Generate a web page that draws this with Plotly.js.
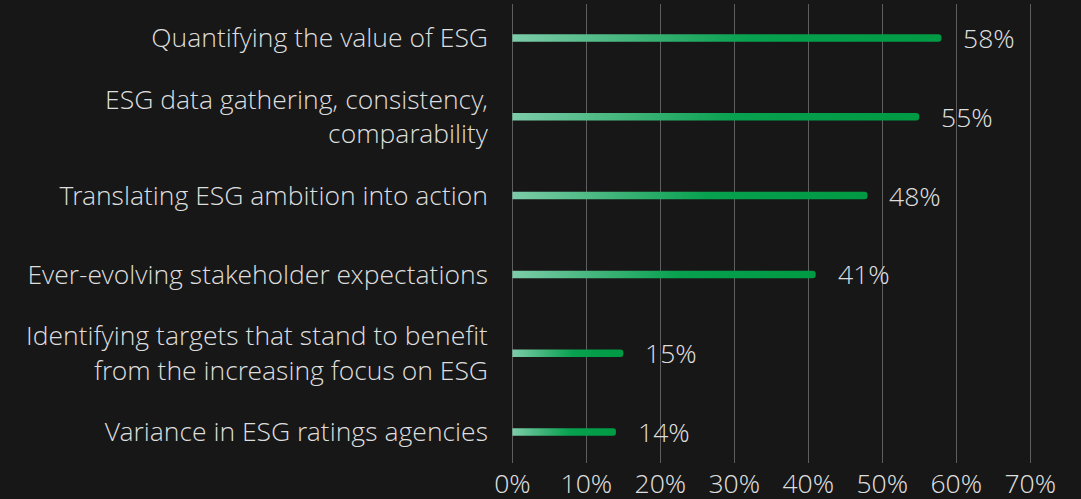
<!DOCTYPE html>
<html>
<head>
<meta charset="utf-8">
<script src="https://cdn.plot.ly/plotly-3.0.1.min.js"></script>
<style>
  html, body { margin: 0; padding: 0; background: #171717; }
  #chart { width: 1081px; height: 499px; }
</style>
</head>
<body>
<div id="chart"></div>
<script>
const categories = [
  "Quantifying the value of ESG",
  "ESG data gathering, consistency,<br>comparability",
  "Translating ESG ambition into action",
  "Ever-evolving stakeholder expectations",
  "Identifying targets that stand to benefit<br>from the increasing focus on ESG",
  "Variance in ESG ratings agencies"
];
const values = [58, 55, 48, 41, 15, 14];
const tickVals = [0, 10, 20, 30, 40, 50, 60, 70];
const tickText = ["0%", "10%", "20%", "30%", "40%", "50%", "60%", "70%"];

const textColor = "#dedede";
const fontFamily = "'Open Sans Light', 'Open Sans', 'Noto Sans', sans-serif";
const fontSize = 26.5;

const trace = {
  type: "bar",
  orientation: "h",
  x: values,
  y: categories,
  width: 0.095,
  marker: { color: "#00a04a", cornerradius: "50%", line: { width: 0 } },
  hoverinfo: "skip"
};

const annotations = values.map((v, i) => ({
  x: v, y: categories[i], xref: "x", yref: "y",
  text: v + "%", showarrow: false, xanchor: "left", yanchor: "middle",
  xshift: 20,
  font: { family: fontFamily, size: fontSize, color: textColor, weight: 300 }
}));

const layout = {
  width: 1081, height: 499,
  paper_bgcolor: "#171717",
  plot_bgcolor: "rgba(0,0,0,0)",
  margin: { l: 505, r: 36, t: 4, b: 36 },
  showlegend: false,
  font: { family: fontFamily, color: textColor, size: fontSize, weight: 300 },
  xaxis: {
    range: [-1, 72],
    tickvals: tickVals, ticktext: tickText,
    showgrid: true, gridcolor: "#5e5e5e", gridwidth: 1,
    zeroline: false, showline: false, ticks: "",
    ticklabelstandoff: 2,
    tickfont: { family: fontFamily, size: fontSize, color: textColor, weight: 300 },
    fixedrange: true
  },
  yaxis: {
    type: "category",
    range: [5.393, -0.431],
    showgrid: false, zeroline: false, showline: false, ticks: "",
    ticklabelstandoff: 16,
    tickfont: { family: fontFamily, size: fontSize, color: textColor, weight: 300 },
    fixedrange: true
  },
  annotations: annotations
};

Plotly.newPlot("chart", [trace], layout, { staticPlot: true, displayModeBar: false }).then(gd => {
  const svg = gd.querySelector("svg.main-svg");
  const ns = "http://www.w3.org/2000/svg";
  let defs = svg.querySelector("defs");
  if (!defs) { defs = document.createElementNS(ns, "defs"); svg.insertBefore(defs, svg.firstChild); }
  const grad = document.createElementNS(ns, "linearGradient");
  grad.setAttribute("id", "barGrad");
  grad.setAttribute("x1", "0"); grad.setAttribute("y1", "0");
  grad.setAttribute("x2", "1"); grad.setAttribute("y2", "0");
  [["0", "#7ccca9"], ["0.3", "#3db377"], ["0.55", "#07a14f"], ["1", "#009a44"]].forEach(([o, c]) => {
    const s = document.createElementNS(ns, "stop");
    s.setAttribute("offset", o); s.setAttribute("stop-color", c);
    grad.appendChild(s);
  });
  defs.appendChild(grad);
  gd.querySelectorAll(".bars .point path").forEach(p => { p.style.fill = "url(#barGrad)"; });
});
</script>
</body>
</html>
